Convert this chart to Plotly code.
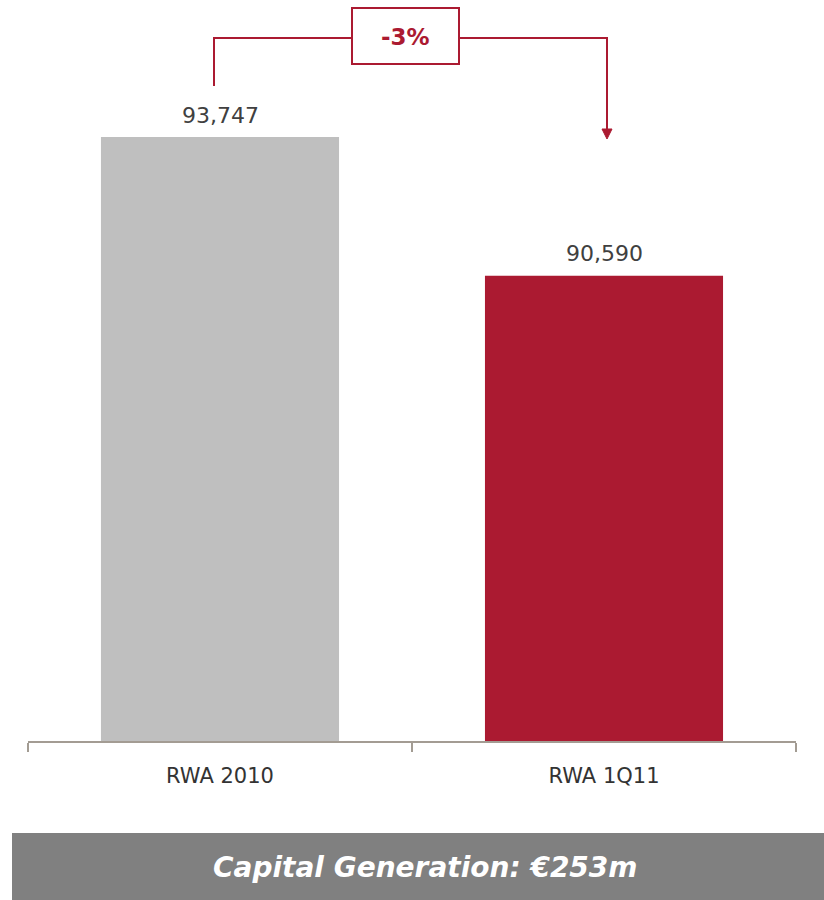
import plotly.graph_objects as go

# RWA (risk-weighted assets), € million
categories = ["RWA 2010", "RWA 1Q11"]
rwa_values = [93747, 90590]
bar_colors = ["#BFBFBF", "#AB1A31"]
change_label = "-3%"
banner_text = "<b><i>Capital Generation: €253m</i></b>"

RED = "#AB1A31"
FONT = "DejaVu Sans"

W, H = 824, 900
ML, MR, MT, MB = 28, 28, 0, 159
plot_w = W - ML - MR
plot_h = H - MT - MB

Y_MIN, Y_MAX = 80000, 96865


def px_x(x):
    """Pixel column -> paper x."""
    return (x - ML) / plot_w


def px_y(y):
    """Pixel row -> paper y."""
    return (H - MB - y) / plot_h


fig = go.Figure(
    go.Bar(
        x=categories,
        y=rwa_values,
        marker=dict(color=bar_colors, line=dict(width=0)),
        cliponaxis=False,
        width=0.62,
    )
)

# Value labels above each bar
for cat, val in zip(categories, rwa_values):
    fig.add_annotation(
        x=cat, y=val,
        text=f"{val:,.0f}",
        showarrow=False,
        yanchor="middle",
        yshift=22,
        font=dict(family=FONT, size=22, color="#404040"),
    )

fig.update_layout(
    width=W,
    height=H,
    margin=dict(l=ML, r=MR, t=MT, b=MB),
    paper_bgcolor="white",
    plot_bgcolor="white",
    showlegend=False,
    font=dict(family=FONT),
    xaxis=dict(
        showline=True,
        linecolor="#A39C93",
        linewidth=2,
        ticks="outside",
        tickson="boundaries",
        ticklen=9,
        tickwidth=1.5,
        tickcolor="#A39C93",
        tickfont=dict(family=FONT, size=21, color="#333333"),
        ticklabelstandoff=15,
        showgrid=False,
    ),
    yaxis=dict(
        range=[Y_MIN, Y_MAX],
        visible=False,
        showgrid=False,
        zeroline=False,
    ),
)

# Connector from the first bar to the second, with the change box in the middle
line_y = 38
fig.add_shape(
    type="path",
    xref="paper", yref="paper",
    path=f"M {px_x(214)} {px_y(86)} L {px_x(214)} {px_y(line_y)} L {px_x(352)} {px_y(line_y)}",
    line=dict(color=RED, width=2),
)
fig.add_shape(
    type="path",
    xref="paper", yref="paper",
    path=f"M {px_x(459)} {px_y(line_y)} L {px_x(607)} {px_y(line_y)} L {px_x(607)} {px_y(130)}",
    line=dict(color=RED, width=2),
)
# Arrowhead
fig.add_shape(
    type="path",
    xref="paper", yref="paper",
    path=(f"M {px_x(602)} {px_y(129)} L {px_x(612)} {px_y(129)} "
          f"L {px_x(607)} {px_y(139)} Z"),
    fillcolor=RED,
    line=dict(color=RED, width=1),
)
# Change box
fig.add_shape(
    type="rect",
    xref="paper", yref="paper",
    x0=px_x(352), x1=px_x(459), y0=px_y(64), y1=px_y(8),
    line=dict(color=RED, width=2),
    fillcolor="white",
)
fig.add_annotation(
    xref="paper", yref="paper",
    x=px_x(405.5), y=px_y(37),
    text=f"<b>{change_label}</b>",
    showarrow=False,
    font=dict(family=FONT, size=23, color=RED),
    xanchor="center", yanchor="middle",
)

# Summary banner
fig.add_shape(
    type="rect",
    xref="paper", yref="paper",
    x0=px_x(12), x1=px_x(824), y0=px_y(833), y1=px_y(900),
    line=dict(width=0),
    fillcolor="#808080",
    layer="below",
)
fig.add_annotation(
    xref="paper", yref="paper",
    x=px_x(425), y=px_y(867),
    text=banner_text,
    showarrow=False,
    font=dict(family=FONT, size=28, color="white"),
    xanchor="center", yanchor="middle",
)

fig.write_html("out.html")
